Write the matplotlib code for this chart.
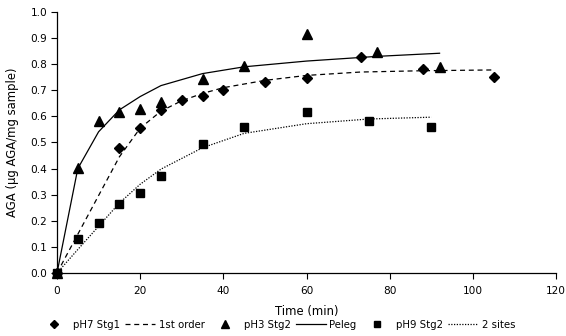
import matplotlib
matplotlib.use("Agg")
import matplotlib.pyplot as plt
from matplotlib.lines import Line2D
from matplotlib.ticker import FormatStrFormatter, MultipleLocator

plt.rcParams['font.family'] = ['DejaVu Sans']

# pH7 Stg1 data and 1st order fit
t7 = [0, 15, 20, 25, 30, 35, 40, 50, 60, 73, 88, 105]
ph7 = [0, 0.48, 0.556, 0.625, 0.662, 0.68, 0.703, 0.733, 0.747, 0.827, 0.78, 0.751]
fit_1st = [0, 0.445, 0.555, 0.62, 0.66, 0.688, 0.71, 0.738, 0.757, 0.77, 0.775, 0.778]

# pH3 Stg2 data and Peleg fit
t3 = [0, 5, 10, 15, 20, 25, 35, 45, 60, 77, 92]
ph3 = [0, 0.403, 0.584, 0.617, 0.627, 0.656, 0.742, 0.795, 0.915, 0.847, 0.79]
fit_peleg = [0, 0.40, 0.541, 0.625, 0.676, 0.718, 0.764, 0.79, 0.812, 0.83, 0.842]

# pH9 Stg2 data and 2 sites fit
t9 = [0, 5, 10, 15, 20, 25, 35, 45, 60, 75, 90]
ph9 = [0, 0.13, 0.19, 0.265, 0.307, 0.37, 0.495, 0.56, 0.617, 0.582, 0.558]
fit_2sites = [0, 0.09, 0.179, 0.268, 0.34, 0.398, 0.48, 0.535, 0.572, 0.59, 0.597]

labels = ["pH7 Stg1", "1st order", "pH3 Stg2", "Peleg", "pH9 Stg2", "2 sites"]

fig = plt.figure(figsize=(5.66, 3.36), dpi=100)
ax = fig.add_axes([57/566, 1 - 273/336, (556-57)/566, (273-12)/336])

lw = 0.9
ax.plot(t7, fit_1st, color='black', lw=lw, ls=(0, (4, 3)), zorder=2)
ax.plot(t3, fit_peleg, color='black', lw=lw, ls='-', zorder=2)
ax.plot(t9, fit_2sites, color='black', lw=lw, ls=(0, (1, 1.2)), zorder=2)

ax.plot(t7, ph7, ls='none', marker='D', ms=5, color='black', clip_on=False, zorder=3)
ax.plot(t3, ph3, ls='none', marker='^', ms=7, color='black', clip_on=False, zorder=3)
ax.plot(t9, ph9, ls='none', marker='s', ms=6, color='black', clip_on=False, zorder=3)

ax.set_xlim(0, 120)
ax.set_ylim(0, 1.0)
ax.xaxis.set_major_locator(MultipleLocator(20))
ax.yaxis.set_major_locator(MultipleLocator(0.1))
ax.yaxis.set_major_formatter(FormatStrFormatter('%.1f'))
for s in ['top', 'right']:
    ax.spines[s].set_visible(False)
for s in ['left', 'bottom']:
    ax.spines[s].set_linewidth(0.9)
ax.tick_params(axis='both', labelsize=7.6, length=4, width=0.8, direction='out', pad=3)
ax.tick_params(axis='x', pad=5)

ax.set_xlabel("Time (min)", fontsize=8.4, labelpad=7)
ax.set_ylabel("AGA (µg AGA/mg sample)", fontsize=8.4, labelpad=8)

handles = [
    Line2D([], [], ls='none', marker='D', ms=4, color='black'),
    Line2D([], [], color='black', lw=lw, ls=(0, (4, 3))),
    Line2D([], [], ls='none', marker='^', ms=6, color='black'),
    Line2D([], [], color='black', lw=lw, ls='-'),
    Line2D([], [], ls='none', marker='s', ms=5, color='black'),
    Line2D([], [], color='black', lw=lw, ls=(0, (1, 1.2))),
]
fig.legend(handles, labels, loc='center', bbox_to_anchor=(277/566, 1 - 325/336),
           ncol=6, frameon=False, fontsize=7.3, handlelength=3.0,
           handletextpad=0.35, columnspacing=0.5, borderaxespad=0)

fig.savefig("out.png", dpi=100)
